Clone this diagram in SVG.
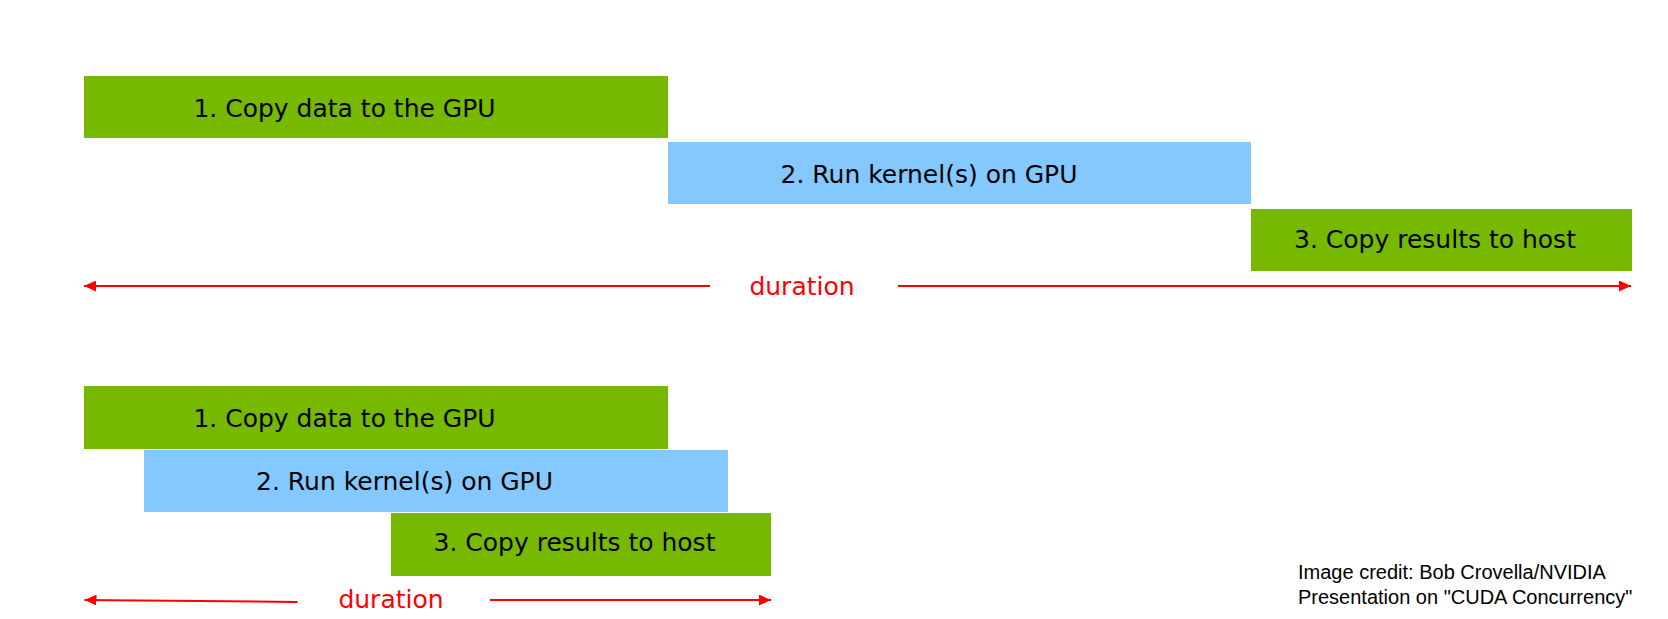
<svg xmlns="http://www.w3.org/2000/svg" width="1668" height="619" viewBox="0 0 1668 619">
<style>
.bg{fill:#ffffff}
.green{fill:#76B900}
.blue{fill:#83C8FF}
.lbl{font-family:"DejaVu Sans",sans-serif;font-size:25px;fill:#000;text-anchor:middle}
.dur{font-family:"DejaVu Sans",sans-serif;font-size:25px;fill:#FF0000;text-anchor:middle}
.line{stroke:#FF0000;stroke-width:2;fill:none}
.credit{font-family:"Liberation Sans",Arial,sans-serif;font-size:20px;fill:#000}
</style>
<defs>
<marker id="ah" markerWidth="12" markerHeight="11" refX="12" refY="5.5" orient="auto" markerUnits="userSpaceOnUse">
<path d="M0,0 L12,5.5 L0,11 Z" fill="#FF0000"/>
</marker>
</defs>
<rect class="bg" x="0" y="0" width="1668" height="619"/>
<g id="top-copy-in">
<rect class="green" x="84" y="76" width="584" height="62"/>
<text class="lbl" x="344.5" y="117">1. Copy data to the GPU</text>
</g>
<g id="top-kernel">
<rect class="blue" x="668" y="142" width="583" height="62"/>
<text class="lbl" x="929" y="182.5">2. Run kernel(s) on GPU</text>
</g>
<g id="top-copy-out">
<rect class="green" x="1251" y="209" width="381" height="62"/>
<text class="lbl" x="1435" y="247.5">3. Copy results to host</text>
</g>
<g id="top-duration">
<text class="dur" x="802" y="295">duration</text>
</g>
<g id="bottom-copy-in">
<rect class="green" x="84" y="386" width="584" height="63"/>
<text class="lbl" x="344.5" y="427">1. Copy data to the GPU</text>
</g>
<g id="bottom-kernel">
<rect class="blue" x="144" y="450" width="584" height="62"/>
<text class="lbl" x="404.5" y="490">2. Run kernel(s) on GPU</text>
</g>
<g id="bottom-copy-out">
<rect class="green" x="391" y="513" width="380" height="63"/>
<text class="lbl" x="574.5" y="551">3. Copy results to host</text>
</g>
<g id="bottom-duration">
<text class="dur" x="391" y="608">duration</text>
</g>
<g id="connectors">
<line class="line" x1="710" y1="286" x2="84" y2="286" marker-end="url(#ah)"/>
<line class="line" x1="898" y1="286" x2="1631" y2="286" marker-end="url(#ah)"/>
<line class="line" x1="297.5" y1="602" x2="84.5" y2="600" marker-end="url(#ah)"/>
<line class="line" x1="490" y1="600" x2="771" y2="600" marker-end="url(#ah)"/>
</g>
<g id="credit">
<text class="credit" x="1298" y="579">Image credit: Bob Crovella/NVIDIA</text>
<text class="credit" x="1298" y="604">Presentation on "CUDA Concurrency"</text>
</g>
</svg>
